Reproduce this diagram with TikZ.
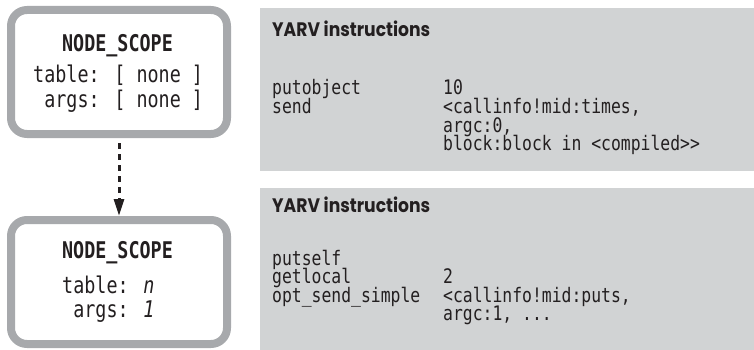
\documentclass[tikz,border=0pt]{standalone}
\usepackage{fontspec}
\usetikzlibrary{arrows.meta}
\newfontfamily\monof{DejaVu Sans Mono}[FakeStretch=0.82]
\newfontfamily\boxf{DejaVu Sans Mono}[FakeStretch=0.80]
\newfontfamily\headf{Poppins}[FakeStretch=0.88]
\definecolor{boxgray}{HTML}{A7A9AC}
\definecolor{panelgray}{HTML}{D1D3D4}
\definecolor{ink}{HTML}{231F20}
\tikzset{
  scopebox/.style={draw=boxgray, line width=8pt, rounded corners=16pt, fill=white,
    minimum width=216pt, minimum height=124pt, inner sep=0pt},
  panel/.style={fill=panelgray, draw=none, inner sep=0pt},
  boxtxt/.style={anchor=base west, inner sep=0pt, text=ink, font=\boxf\fontsize{23}{26}\selectfont},
  boxhead/.style={anchor=base, inner sep=0pt, text=ink, font=\boxf\bfseries\fontsize{23}{26}\selectfont},
  code/.style={anchor=base west, inner sep=0pt, text=ink, font=\monof\fontsize{20}{22}\selectfont},
  head/.style={anchor=base west, inner sep=0pt, text=ink, font=\headf\bfseries\fontsize{19.5}{22}\selectfont},
  flow/.style={line width=3pt, ink, dash pattern=on 6pt off 5pt, -{Triangle[length=17pt,width=10pt]}}
}
\begin{document}
\begin{tikzpicture}[x=1pt,y=-1pt]
\useasboundingbox (0,0) rectangle (754,350);
% panels
\node[panel, minimum width=494pt, minimum height=163pt, anchor=north west] (p1) at (260,8) {};
\node[panel, minimum width=494pt, minimum height=162pt, anchor=north west] (p2) at (260,188) {};
% boxes
\node[scopebox] (b1) at (119,72) {};
\node[scopebox] (b2) at (119,282) {};
% arrow
\draw[flow, shorten <=5pt] (b1.south) -- (b2.north);
% box 1 text
\node[boxhead] (b1h) at (117.5,52) {NODE\_SCOPE};
\node[boxtxt] (b1t) at (33,83) {table: [ none ]};
\node[boxtxt] (b1a) at (33,107) {\ args: [ none ]};
% box 2 text
\node[boxhead] (b2h) at (117.5,258) {NODE\_SCOPE};
\node[boxtxt] (b2t) at (62,293) {table: \textit{n}};
\node[boxtxt] (b2a) at (62,317) {\ args: \textit{1}};
% panel 1 text
\node[head] (h1) at (272,37) {YARV instructions};
\node[code] (c11) at (272,95) {putobject};
\node[code] (c12) at (272,113.5) {send};
\node[code] (d11) at (443,95) {10};
\node[code] (d12) at (443,113.5) {<callinfo!mid:times,};
\node[code] (d13) at (443,132) {argc:0,};
\node[code] (d14) at (443,150.5) {block:block in <compiled>>};
% panel 2 text
\node[head] (h2) at (272,212) {YARV instructions};
\node[code] (c21) at (272,265) {putself};
\node[code] (c22) at (272,283.5) {getlocal};
\node[code] (c23) at (272,302) {opt\_send\_simple};
\node[code] (d22) at (443,283.5) {2};
\node[code] (d23) at (443,302) {<callinfo!mid:puts,};
\node[code] (d24) at (443,320.5) {argc:1, ...};
\end{tikzpicture}
\end{document}
